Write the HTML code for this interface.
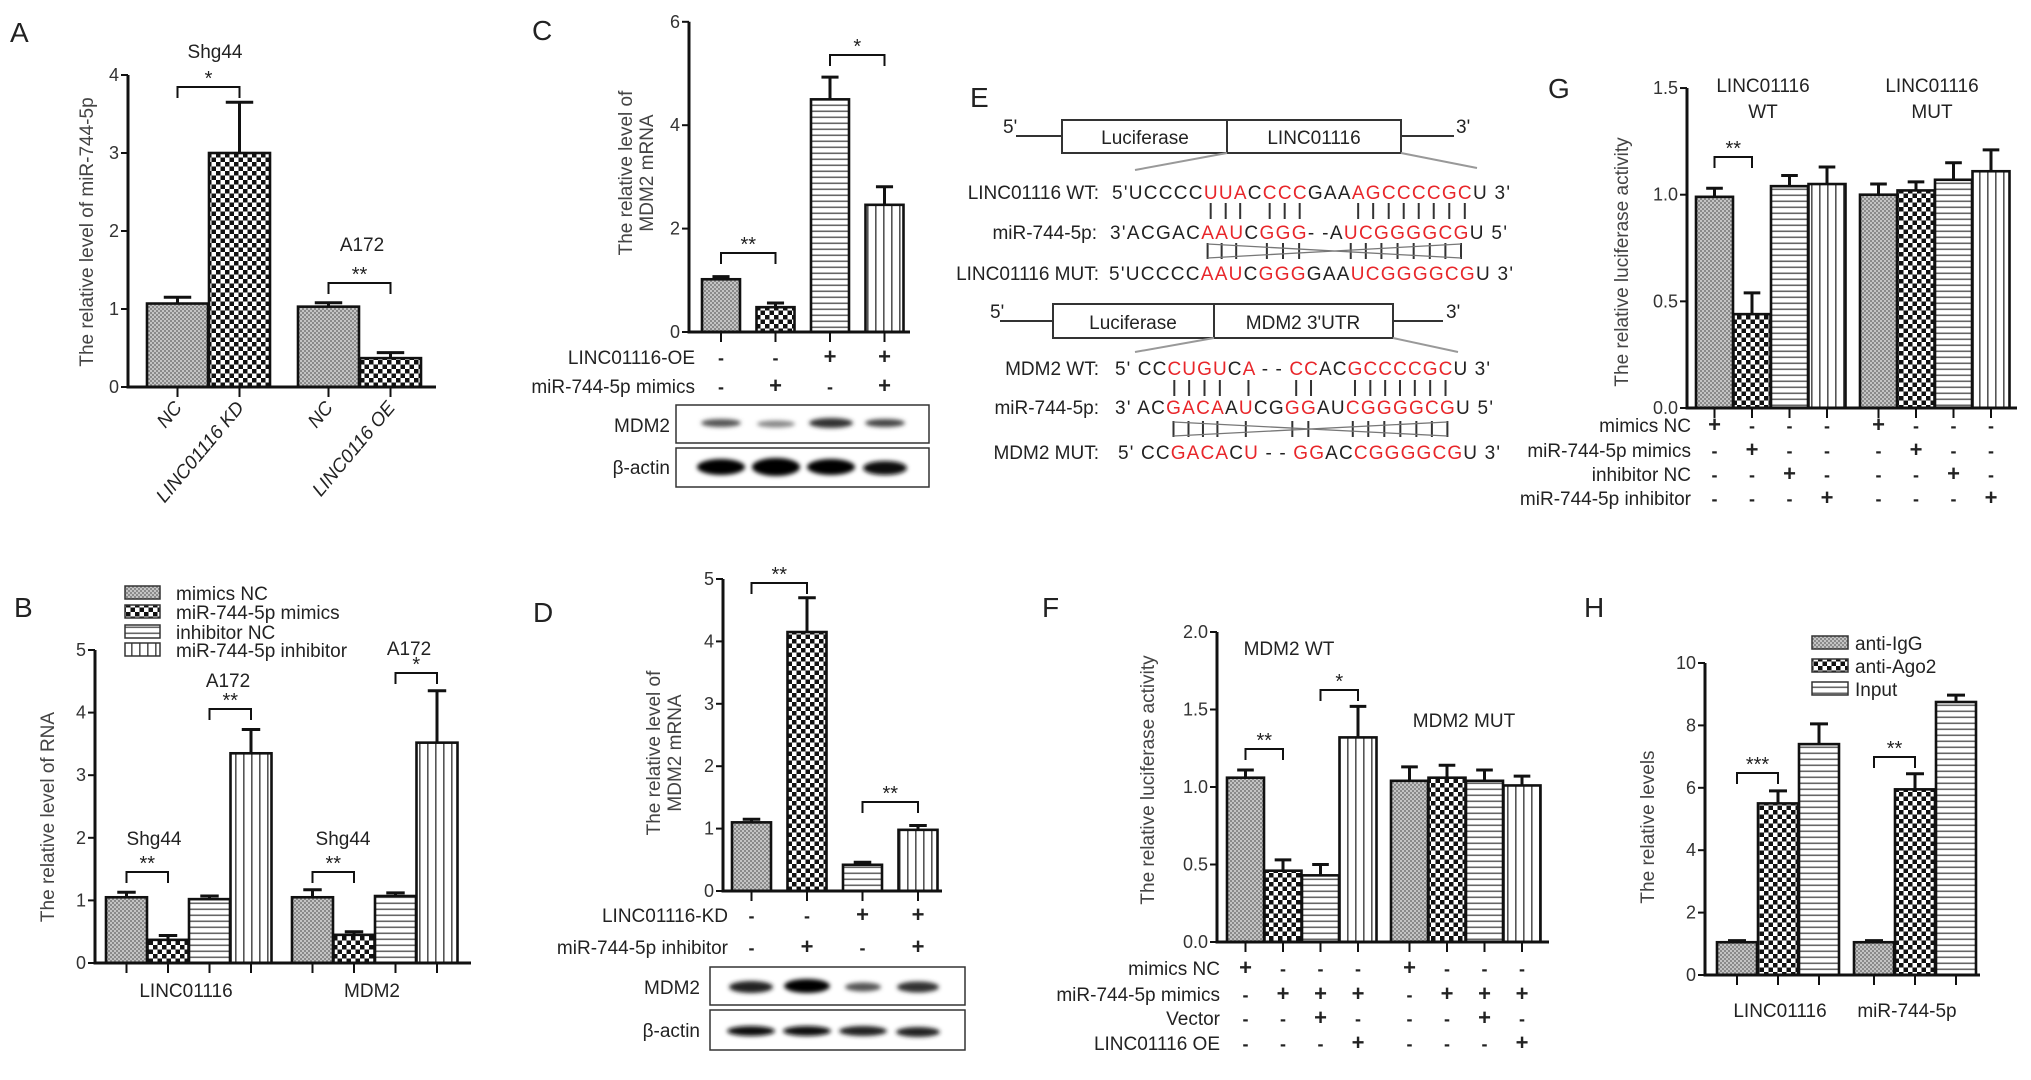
<!DOCTYPE html>
<html><head><meta charset="utf-8"><style>
html,body{margin:0;padding:0;background:#fff;}
svg{display:block;}
text{fill:#222;}
.tk{font-size:18px;fill:#333;}
.ann{font-size:19px;}
.yt{font-size:19px;fill:#444;}
.seq{font-size:19px;}
.lab{font-size:28px;}
.r{fill:#e8262a;}
</style></head><body>
<svg id="fig" width="2031" height="1080" viewBox="0 0 2031 1080" font-family="'Liberation Sans Narrow','Liberation Sans',sans-serif">
<defs>
<pattern id="pGray" patternUnits="userSpaceOnUse" width="4" height="4"><rect width="4" height="4" fill="#8a8a8a"/><rect width="2" height="2" fill="#c4c4c4"/><rect x="2" y="2" width="2" height="2" fill="#c4c4c4"/></pattern>
<pattern id="pCheck" patternUnits="userSpaceOnUse" width="9" height="9"><rect width="9" height="9" fill="#fff"/><rect width="4.5" height="4.5" fill="#111"/><rect x="4.5" y="4.5" width="4.5" height="4.5" fill="#111"/></pattern>
<pattern id="pH" patternUnits="userSpaceOnUse" width="6" height="6"><rect width="6" height="6" fill="#fff"/><rect y="2.5" width="6" height="1.6" fill="#666"/></pattern>
<pattern id="pV" patternUnits="userSpaceOnUse" width="8" height="8"><rect width="8" height="8" fill="#fff"/><rect x="3" width="1.6" height="8" fill="#555"/></pattern>
<filter id="blur"><feGaussianBlur stdDeviation="2.2"/></filter>
</defs>

<!-- Panel letters -->
<text class="lab" x="10" y="42">A</text>
<text class="lab" x="532" y="40">C</text>
<text class="lab" x="970" y="107">E</text>
<text class="lab" x="1548" y="98">G</text>
<text class="lab" x="14" y="617">B</text>
<text class="lab" x="533" y="622">D</text>
<text class="lab" x="1042" y="617">F</text>
<text class="lab" x="1584" y="617">H</text>

<!-- Y titles -->
<text class="yt" transform="translate(93,232) rotate(-90)" text-anchor="middle">The relative level of miR-744-5p</text>
<g transform="translate(632,173) rotate(-90)"><text class="yt" text-anchor="middle" x="0" y="0">The relative level of</text><text class="yt" text-anchor="middle" x="0" y="21">MDM2 mRNA</text></g>
<text class="yt" transform="translate(1628,262) rotate(-90)" text-anchor="middle">The relative luciferase activity</text>
<text class="yt" transform="translate(54,817) rotate(-90)" text-anchor="middle">The relative level of RNA</text>
<g transform="translate(660,753) rotate(-90)"><text class="yt" text-anchor="middle" x="0" y="0">The relative level of</text><text class="yt" text-anchor="middle" x="0" y="21">MDM2 mRNA</text></g>
<text class="yt" transform="translate(1154,780) rotate(-90)" text-anchor="middle">The relative luciferase activity</text>
<text class="yt" transform="translate(1654,827) rotate(-90)" text-anchor="middle">The relative levels</text>

<!-- Group annotations -->
<text class="ann" x="215" y="58" text-anchor="middle">Shg44</text>
<text class="ann" x="362" y="251" text-anchor="middle">A172</text>
<text class="ann" x="1763" y="92" text-anchor="middle">LINC01116</text>
<text class="ann" x="1763" y="118" text-anchor="middle">WT</text>
<text class="ann" x="1932" y="92" text-anchor="middle">LINC01116</text>
<text class="ann" x="1932" y="118" text-anchor="middle">MUT</text>
<text class="ann" x="154" y="845" text-anchor="middle">Shg44</text>
<text class="ann" x="228" y="687" text-anchor="middle">A172</text>
<text class="ann" x="343" y="845" text-anchor="middle">Shg44</text>
<text class="ann" x="409" y="655" text-anchor="middle">A172</text>
<text class="ann" x="1289" y="655" text-anchor="middle">MDM2 WT</text>
<text class="ann" x="1464" y="727" text-anchor="middle">MDM2 MUT</text>
<text class="ann" x="186" y="997" text-anchor="middle">LINC01116</text>
<text class="ann" x="372" y="997" text-anchor="middle">MDM2</text>
<text class="ann" x="1780" y="1017" text-anchor="middle">LINC01116</text>
<text class="ann" x="1907" y="1017" text-anchor="middle">miR-744-5p</text>

<!-- Panel A rotated labels -->
<g font-style="italic" class="ann">
<text class="ann" text-anchor="end" transform="translate(183,408) rotate(-50)">NC</text>
<text class="ann" text-anchor="end" transform="translate(245,408) rotate(-50)">LINC01116 KD</text>
<text class="ann" text-anchor="end" transform="translate(334,408) rotate(-50)">NC</text>
<text class="ann" text-anchor="end" transform="translate(396,408) rotate(-50)">LINC0116 OE</text>
</g>

<!-- Row labels -->
<g class="ann" text-anchor="end">
<text class="ann" x="695" y="364">LINC01116-OE</text>
<text class="ann" x="695" y="393">miR-744-5p mimics</text>
<text class="ann" x="670" y="432">MDM2</text>
<text class="ann" x="670" y="474">β-actin</text>
<text class="ann" x="728" y="922">LINC01116-KD</text>
<text class="ann" x="728" y="954">miR-744-5p inhibitor</text>
<text class="ann" x="700" y="994">MDM2</text>
<text class="ann" x="700" y="1037">β-actin</text>
<text class="ann" x="1691" y="432">mimics NC</text>
<text class="ann" x="1691" y="457">miR-744-5p mimics</text>
<text class="ann" x="1691" y="481">inhibitor NC</text>
<text class="ann" x="1691" y="505">miR-744-5p inhibitor</text>
<text class="ann" x="1220" y="975">mimics NC</text>
<text class="ann" x="1220" y="1001">miR-744-5p mimics</text>
<text class="ann" x="1220" y="1025">Vector</text>
<text class="ann" x="1220" y="1050">LINC01116 OE</text>
</g>

<!-- Legends -->
<g>
<rect x="125" y="586" width="35" height="13" fill="url(#pGray)" stroke="#333" stroke-width="1.5"/><text class="ann" x="176" y="600">mimics NC</text>
<rect x="125" y="605" width="35" height="13" fill="url(#pCheck)" stroke="#333" stroke-width="1.5"/><text class="ann" x="176" y="619">miR-744-5p mimics</text>
<rect x="125" y="625" width="35" height="13" fill="url(#pH)" stroke="#333" stroke-width="1.5"/><text class="ann" x="176" y="639">inhibitor NC</text>
<rect x="125" y="643" width="35" height="13" fill="url(#pV)" stroke="#333" stroke-width="1.5"/><text class="ann" x="176" y="657">miR-744-5p inhibitor</text>
</g>
<g>
<rect x="1812" y="636" width="36" height="13" fill="url(#pGray)" stroke="#333" stroke-width="1.5"/><text class="ann" x="1855" y="650">anti-IgG</text>
<rect x="1812" y="659" width="36" height="13" fill="url(#pCheck)" stroke="#333" stroke-width="1.5"/><text class="ann" x="1855" y="673">anti-Ago2</text>
<rect x="1812" y="682" width="36" height="13" fill="url(#pH)" stroke="#333" stroke-width="1.5"/><text class="ann" x="1855" y="696">Input</text>
</g>

<!-- Blots -->
<g>
<rect x="676" y="405" width="253" height="38" fill="#fff" stroke="#333" stroke-width="1.5"/>
<rect x="676" y="448" width="253" height="39" fill="#fff" stroke="#333" stroke-width="1.5"/>
<g filter="url(#blur)">
<ellipse cx="721" cy="423" rx="20" ry="4" fill="#555"/><ellipse cx="776" cy="424" rx="19" ry="3.5" fill="#888"/><ellipse cx="831" cy="423" rx="22" ry="5" fill="#333"/><ellipse cx="885" cy="423" rx="20" ry="4" fill="#444"/>
<ellipse cx="721" cy="467" rx="24" ry="8" fill="#000"/><ellipse cx="776" cy="467" rx="24" ry="9" fill="#000"/><ellipse cx="831" cy="467" rx="24" ry="8" fill="#000"/><ellipse cx="885" cy="468" rx="22" ry="7" fill="#111"/>
</g></g>
<g>
<rect x="710" y="967" width="255" height="38" fill="#fff" stroke="#333" stroke-width="1.5"/>
<rect x="710" y="1010" width="255" height="40" fill="#fff" stroke="#333" stroke-width="1.5"/>
<g filter="url(#blur)">
<ellipse cx="751" cy="987" rx="22" ry="6" fill="#222"/><ellipse cx="807" cy="986" rx="23" ry="7" fill="#000"/><ellipse cx="863" cy="987" rx="18" ry="4.5" fill="#555"/><ellipse cx="918" cy="987" rx="21" ry="5.5" fill="#333"/>
<ellipse cx="751" cy="1031" rx="24" ry="5" fill="#111"/><ellipse cx="807" cy="1031" rx="24" ry="5" fill="#111"/><ellipse cx="863" cy="1031" rx="24" ry="5" fill="#222"/><ellipse cx="918" cy="1032" rx="22" ry="5" fill="#222"/>
</g></g>

<!-- Panel E constructs -->
<g stroke="#333" stroke-width="2" fill="none">
<line x1="1016" y1="136" x2="1062" y2="136"/><rect x="1062" y="120" width="339" height="33" fill="#fff"/><line x1="1227" y1="120" x2="1227" y2="153"/><line x1="1401" y1="136" x2="1454" y2="136"/>
<line x1="1227" y1="153" x2="1135" y2="170" stroke="#999"/><line x1="1401" y1="153" x2="1477" y2="168" stroke="#999"/>
</g>
<text class="ann" x="1145" y="144" text-anchor="middle">Luciferase</text>
<text class="ann" x="1314" y="144" text-anchor="middle">LINC01116</text>
<text class="ann" x="1003" y="133">5'</text>
<text class="ann" x="1456" y="133">3'</text>
<g stroke="#333" stroke-width="2" fill="none">
<line x1="1000" y1="321" x2="1053" y2="321"/><rect x="1053" y="304" width="340" height="34" fill="#fff"/><line x1="1214" y1="304" x2="1214" y2="338"/><line x1="1393" y1="321" x2="1443" y2="321"/>
<line x1="1214" y1="338" x2="1135" y2="352" stroke="#999"/><line x1="1393" y1="338" x2="1458" y2="352" stroke="#999"/>
</g>
<text class="ann" x="1133" y="329" text-anchor="middle">Luciferase</text>
<text class="ann" x="1303" y="329" text-anchor="middle">MDM2 3'UTR</text>
<text class="ann" x="990" y="318">5'</text>
<text class="ann" x="1446" y="318">3'</text>

<g class="ann" text-anchor="end">
<text class="seq" x="1099" y="199">LINC01116 WT:</text>
<text class="seq" x="1097" y="239">miR-744-5p:</text>
<text class="seq" x="1099" y="280">LINC01116 MUT:</text>
<text class="seq" x="1099" y="375">MDM2 WT:</text>
<text class="seq" x="1099" y="414">miR-744-5p:</text>
<text class="seq" x="1099" y="459">MDM2 MUT:</text>
</g>
<text id="s1" class="seq" x="1112" y="199" textLength="398" lengthAdjust="spacing">5'UCCCC<tspan class="r">UUA</tspan>C<tspan class="r">CCC</tspan>GAA<tspan class="r">AGCCCCGC</tspan>U 3'</text>
<text id="s2" class="seq" x="1110" y="239" textLength="397" lengthAdjust="spacing">3'ACGAC<tspan class="r">AAU</tspan>C<tspan class="r">GGG</tspan>- -A<tspan class="r">UCGGGGCG</tspan>U 5'</text>
<text id="s3" class="seq" x="1109" y="280" textLength="404" lengthAdjust="spacing">5'UCCCC<tspan class="r">AAU</tspan>C<tspan class="r">GGG</tspan>GAA<tspan class="r">UCGGGGCG</tspan>U 3'</text>
<text id="s4" class="seq" x="1115" y="375" textLength="375" lengthAdjust="spacing">5' CC<tspan class="r">CUGU</tspan>C<tspan class="r">A</tspan> - - <tspan class="r">CC</tspan>AC<tspan class="r">GCCCCGC</tspan>U 3'</text>
<text id="s5" class="seq" x="1115" y="414" textLength="378" lengthAdjust="spacing">3' AC<tspan class="r">GACA</tspan>A<tspan class="r">U</tspan>CG<tspan class="r">GG</tspan>AU<tspan class="r">CGGGGCG</tspan>U 5'</text>
<text id="s6" class="seq" x="1118" y="459" textLength="382" lengthAdjust="spacing">5' CC<tspan class="r">GACA</tspan>C<tspan class="r">U</tspan> - - <tspan class="r">GG</tspan>AC<tspan class="r">CGGGGCG</tspan>U 3'</text>
<g id="pairs"></g>
<g id="charts"></g>
</svg>
<script>
// ---- Panel data ----
const aValues=[1.07,3.0,1.03,0.37];
const aErrors=[0.08,0.65,0.05,0.07];
const bValues=[1.05,0.37,1.02,3.35,1.05,0.45,1.07,3.52];
const bErrors=[0.08,0.07,0.05,0.38,0.12,0.05,0.05,0.83];
const cValues=[1.02,0.48,4.5,2.46];
const cErrors=[0.05,0.08,0.43,0.35];
const cRowOE=['-','-','+','+'];
const cRowMimics=['-','+','-','+'];
const dValues=[1.1,4.15,0.42,0.98];
const dErrors=[0.05,0.55,0.04,0.07];
const dRowKD=['-','-','+','+'];
const dRowInh=['-','+','-','+'];
const fValues=[1.06,0.46,0.43,1.32,1.04,1.06,1.04,1.01];
const fErrors=[0.05,0.07,0.07,0.2,0.09,0.08,0.07,0.06];
const fRow1=['+','-','-','-','+','-','-','-'];
const fRow2=['-','+','+','+','-','+','+','+'];
const fRow3=['-','-','+','-','-','-','+','-'];
const fRow4=['-','-','-','+','-','-','-','+'];
const gValues=[0.99,0.44,1.04,1.05,1.0,1.02,1.07,1.11];
const gErrors=[0.04,0.10,0.05,0.08,0.05,0.04,0.08,0.10];
const gRow1=['+','-','-','-','+','-','-','-'];
const gRow2=['-','+','-','-','-','+','-','-'];
const gRow3=['-','-','+','-','-','-','+','-'];
const gRow4=['-','-','-','+','-','-','-','+'];
const hValues=[1.05,5.5,7.4,1.05,5.95,8.75];
const hErrors=[0.05,0.4,0.65,0.05,0.5,0.22];

const NS='http://www.w3.org/2000/svg';
const root=document.getElementById('charts');
function mk(tag,attrs,parent){const e=document.createElementNS(NS,tag);for(const k in attrs)e.setAttribute(k,attrs[k]);(parent||root).appendChild(e);return e;}

function chart(cfg){
  const g=mk('g',{});
  
  
  const yS=v=>cfg.y0-v*cfg.unit;
  const xS=i=>cfg.xFirst+i*cfg.slot+Math.floor(i/cfg.gs)*cfg.gap;
  const cx=i=>xS(i)+cfg.w/2;
  cfg.cx=cx; cfg.yS=yS;
  // bars
  cfg.vals.forEach((v,i)=>{
    const r=mk('rect',{x:xS(i),y:yS(v),width:cfg.w,height:v*cfg.unit,fill:'url(#'+cfg.pats[i%cfg.pats.length]+')',stroke:'#111','stroke-width':2.6},g);
    
    
    const e=cfg.errs[i], top=yS(v+e), cw=cfg.w*0.45;
    const eb=mk('path',{d:`M${cx(i)},${yS(v)}V${top}M${cx(i)-cw/2},${top}H${cx(i)+cw/2}`,stroke:'#111','stroke-width':3,fill:'none'},g);
    
    
    const t=mk('line',{x1:cx(i),x2:cx(i),y1:cfg.y0,y2:cfg.y0+10,stroke:'#111','stroke-width':2},g);
    
    
  });
  // axes
  const ax=mk('path',{d:`M${cfg.axisX},${yS(cfg.ymax)}V${cfg.y0}H${cfg.axisEnd}`,stroke:'#111','stroke-width':3,fill:'none'},g);
  
  
  for(let v=0;v<=cfg.ymax+1e-9;v+=cfg.step){
    mk('line',{x1:cfg.axisX-7,x2:cfg.axisX,y1:yS(v),y2:yS(v),stroke:'#111','stroke-width':2},g);
    const t=mk('text',{x:cfg.axisX-9,y:yS(v)+6,'text-anchor':'end','class':'tk'},g);
    t.textContent=cfg.dec?v.toFixed(1):String(Math.round(v));
    
    
  }
  (cfg.brackets||[]).forEach(b=>{
    const x1=cx(b[0]),x2=cx(b[1]);
    const p=mk('path',{d:`M${x1},${b[2]+11}V${b[2]}H${x2}V${b[2]+11}`,stroke:'#111','stroke-width':2,fill:'none'},g);
    
    
    const t=mk('text',{x:(x1+x2)/2,y:b[2]-2,'text-anchor':'middle','font-size':'20px'},g);
    t.textContent=b[3];
    
    
  });
  (cfg.rows||[]).forEach(r=>{
    r[0].forEach((s,i)=>{
      const t=mk('text',{x:cx(i),y:r[1],'text-anchor':'middle','font-size':s==='+'?'22px':'18px','font-weight':'bold'},g);
      t.textContent=s==='+'?'+':'-';
      
      
    });
  });
}
const P4=['pGray','pCheck','pH','pV'], P3=['pGray','pCheck','pH'];
chart({name:'chart-a',vals:aValues,errs:aErrors,pats:['pGray','pCheck'],axisX:128,axisEnd:436,y0:387,unit:78,ymax:4,step:1,xFirst:147,slot:62,w:61,gs:2,gap:27,
  brackets:[[0,1,87,'*'],[2,3,283,'**']]});
chart({name:'chart-b',vals:bValues,errs:bErrors,pats:P4,axisX:95,axisEnd:471,y0:963,unit:62.6,ymax:5,step:1,xFirst:106,slot:41.5,w:41,gs:4,gap:20,
  brackets:[[0,1,872,'**'],[2,3,709,'**'],[4,5,872,'**'],[6,7,673,'*']]});
chart({name:'chart-c',vals:cValues,errs:cErrors,pats:P4,axisX:689,axisEnd:910,y0:332,unit:51.7,ymax:6,step:2,xFirst:702,slot:54.5,w:38,gs:4,gap:0,
  brackets:[[0,1,253,'**'],[2,3,55,'*']],rows:[[cRowOE,364],[cRowMimics,393]]});
chart({name:'chart-d',vals:dValues,errs:dErrors,pats:P4,axisX:723,axisEnd:942,y0:891,unit:62.4,ymax:5,step:1,xFirst:732,slot:55.5,w:39,gs:4,gap:0,
  brackets:[[0,1,583,'**'],[2,3,802,'**']],rows:[[dRowKD,922],[dRowInh,954]]});
chart({name:'chart-f',vals:fValues,errs:fErrors,pats:P4,axisX:1217,axisEnd:1549,y0:942,unit:155,ymax:2,step:0.5,dec:true,xFirst:1227,slot:37.5,w:37,gs:4,gap:14,
  brackets:[[0,1,749,'**'],[2,3,690,'*']],rows:[[fRow1,975],[fRow2,1001],[fRow3,1025],[fRow4,1050]]});
chart({name:'chart-g',vals:gValues,errs:gErrors,pats:P4,axisX:1687,axisEnd:2017,y0:408,unit:213.3,ymax:1.5,step:0.5,dec:true,xFirst:1696,slot:37.5,w:37,gs:4,gap:14,
  brackets:[[0,1,157,'**']],rows:[[gRow1,432],[gRow2,457],[gRow3,481],[gRow4,505]]});
chart({name:'chart-h',vals:hValues,errs:hErrors,pats:P3,axisX:1705,axisEnd:1980,y0:975,unit:31.2,ymax:10,step:2,xFirst:1717,slot:41,w:40,gs:3,gap:14,
  brackets:[[0,1,773,'***'],[3,4,757,'**']]});

// base-pair lines between sequences
const pg=document.getElementById('pairs');
function redIdx(id){const t=document.getElementById(id);const out=[];let i=0;t.childNodes.forEach(n=>{const len=n.textContent.length;if(n.nodeType===1){for(let k=0;k<len;k++)out.push(i+k);}i+=len;});return {t,out};}
function centers(id){const {t,out}=redIdx(id);return out.map(i=>{try{const a=t.getStartPositionOfChar(i).x,b=t.getEndPositionOfChar(i).x;return (a+b)/2;}catch(e){return 0;}});}
function bars(xs,y1,y2){xs.forEach(x=>{const l=mk('line',{x1:x,x2:x,y1:y1,y2:y2,stroke:'#333','stroke-width':2},pg);});}
function cross(xs,y1,y2){const a=xs[0],b=xs[xs.length-1];
  const p=mk('path',{d:`M${a},${y1}L${b},${y2}M${a},${y2}L${b},${y1}`,stroke:'#777','stroke-width':1.3,fill:'none'},pg);
  
  }
const c1=centers('s1'), c2=centers('s2'), c4=centers('s4'), c5=centers('s5');
bars(c1,203,219); bars(c2,243,259); cross(c2,244,258);
bars(c4,380,396); bars(c5,421,437); cross(c5,422,436);
</script>
</body></html>
